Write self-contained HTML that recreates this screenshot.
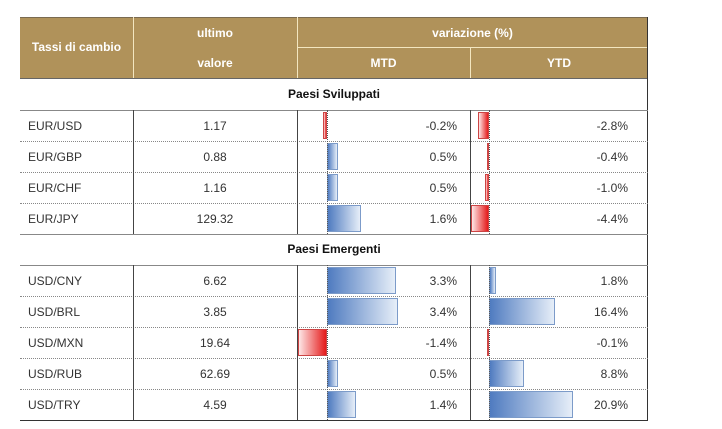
<!DOCTYPE html><html><head><style>
body{margin:0;width:722px;height:429px;background:#fff;position:relative;font-family:"Liberation Sans","DejaVu Sans",sans-serif;overflow:hidden}
.a{position:absolute}
.h{background:#b0925a;color:#fff;font-weight:bold;font-size:12px;text-align:center}
.t{font-size:12px;color:#333}
.bp{background:linear-gradient(90deg,#4f7bc0,#e6eef8);border:1px solid #7c9bc9;box-sizing:border-box}
.bn{background:linear-gradient(90deg,#fde6e6,#e51a1a);border:1px solid #c44;box-sizing:border-box}
.dl{border-top:1px dotted #888;height:0}
</style></head><body>
<div class="a h" style="left:20px;top:17px;width:628px;height:61px"></div>
<div class="a" style="left:20px;top:17px;width:628px;height:1px;background:#7a6a50"></div>
<div class="a" style="left:133px;top:17px;width:1px;height:61px;background:#f3e6c0"></div>
<div class="a" style="left:297px;top:17px;width:1px;height:61px;background:#f3e6c0"></div>
<div class="a" style="left:470px;top:47px;width:1px;height:31px;background:#f3e6c0"></div>
<div class="a" style="left:297px;top:47px;width:351px;height:1px;background:#f3e6c0"></div>
<div class="a h" style="left:20px;top:40px;width:113px;background:none">Tassi di cambio</div>
<div class="a h" style="left:133px;top:26px;width:164px;background:none">ultimo</div>
<div class="a h" style="left:133px;top:56px;width:164px;background:none">valore</div>
<div class="a h" style="left:297px;top:26px;width:351px;background:none">variazione (%)</div>
<div class="a h" style="left:297px;top:56px;width:173px;background:none">MTD</div>
<div class="a h" style="left:470px;top:56px;width:178px;background:none">YTD</div>
<div class="a" style="left:20px;top:78px;width:628px;height:1px;background:#666"></div>
<div class="a" style="left:647px;top:17px;width:1px;height:404px;background:#333"></div>
<div class="a t" style="left:20px;top:87px;width:628px;text-align:center;font-weight:bold;color:#111">Paesi Sviluppati</div>
<div class="a" style="left:20px;top:110px;width:628px;height:1px;background:#888"></div>
<div class="a t" style="left:20px;top:242px;width:628px;text-align:center;font-weight:bold;color:#111">Paesi Emergenti</div>
<div class="a" style="left:20px;top:234px;width:628px;height:1px;background:#888"></div>
<div class="a" style="left:20px;top:265px;width:628px;height:1px;background:#888"></div>
<div class="a" style="left:20px;top:420px;width:628px;height:1px;background:#333"></div>
<div id="rows"></div>
<script>
var d=[["EUR/USD","1.17",-0.2,-2.8,110],["EUR/GBP","0.88",0.5,-0.4,141],["EUR/CHF","1.16",0.5,-1.0,172],["EUR/JPY","129.32",1.6,-4.4,203],
["USD/CNY","6.62",3.3,1.8,265],["USD/BRL","3.85",3.4,16.4,296],["USD/MXN","19.64",-1.4,-0.1,327],["USD/RUB","62.69",0.5,8.8,358],["USD/TRY","4.59",1.4,20.9,389]];
var h="";
function bar(z,v,s,y){var w=Math.max(2,Math.abs(v)*s);var l=v>=0?z:z-w;return '<div class="a '+(v>=0?'bp':'bn')+'" style="left:'+l+'px;top:'+(y+2)+'px;width:'+w+'px;height:27px"></div>';}
function f(v){return v.toFixed(1)+"%";}
d.forEach(function(r,i){var y=r[4];
h+='<div class="a t" style="left:28px;top:'+(y+9)+'px">'+r[0]+'</div>';
h+='<div class="a t" style="left:133px;top:'+(y+9)+'px;width:164px;text-align:center">'+r[1]+'</div>';
h+=bar(327,r[2],21,y)+bar(489,r[3],4,y);
h+='<div class="a t" style="left:297px;top:'+(y+9)+'px;width:160px;text-align:right">'+f(r[2])+'</div>';
h+='<div class="a t" style="left:470px;top:'+(y+9)+'px;width:158px;text-align:right">'+f(r[3])+'</div>';
if(i!=3&&i!=8)h+='<div class="a dl" style="left:20px;top:'+(y+31)+'px;width:628px"></div>';
});
[[110,124],[265,155]].forEach(function(s){
h+='<div class="a" style="left:133px;top:'+s[0]+'px;width:1px;height:'+s[1]+'px;background:#444"></div>';
h+='<div class="a" style="left:297px;top:'+s[0]+'px;width:1px;height:'+s[1]+'px;background:#444"></div>';
h+='<div class="a" style="left:470px;top:'+s[0]+'px;width:1px;height:'+s[1]+'px;background:#444"></div>';
h+='<div class="a" style="left:327px;top:'+s[0]+'px;width:0;height:'+s[1]+'px;border-left:1px dotted #555"></div>';
h+='<div class="a" style="left:489px;top:'+s[0]+'px;width:0;height:'+s[1]+'px;border-left:1px dotted #555"></div>';});
document.getElementById("rows").innerHTML=h;
</script>
</body></html>
